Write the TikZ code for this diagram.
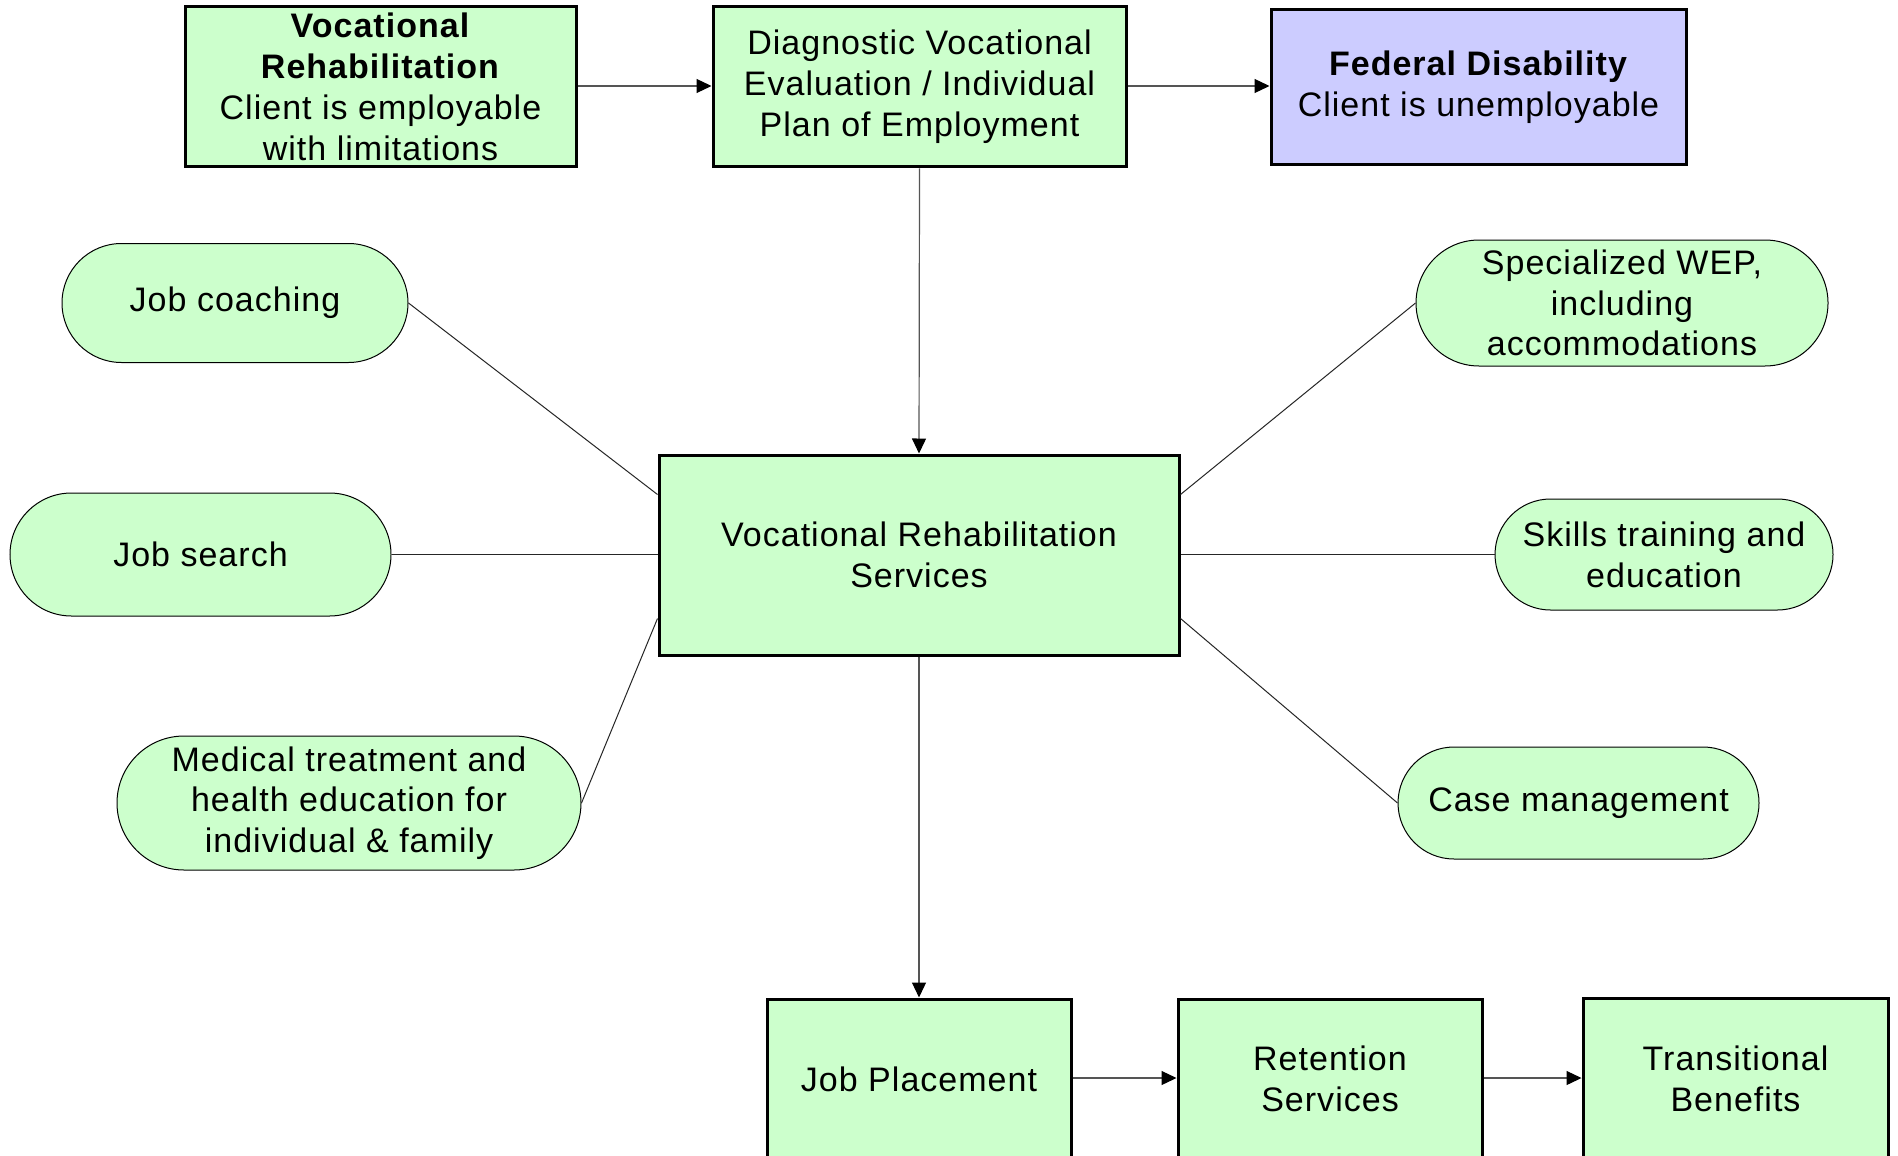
\documentclass[tikz,border=0pt]{standalone}
\usepackage{fontspec}
\setmainfont{Liberation Sans}[LetterSpace=3]
\usetikzlibrary{arrows.meta,calc}
\definecolor{boxgreen}{HTML}{CCFFCC}
\definecolor{boxblue}{HTML}{CCCCFF}
\definecolor{linkgray}{HTML}{555555}
\begin{document}
\begin{tikzpicture}[x=0.5pt,y=-0.5pt,
  every node/.style={align=center,font=\fontsize{17}{20.4}\selectfont,inner sep=0pt},
  stagebox/.style={draw=black,line width=1.5pt,fill=boxgreen},
  bluebox/.style={draw=black,line width=1.5pt,fill=boxblue},
  service/.style={draw=black,line width=0.5pt,fill=boxgreen},
  flow/.style={draw=linkgray,line width=0.6pt,-{Triangle[length=7.5pt,width=7pt,fill=black,color=black]}},
  link/.style={draw=black!85,line width=0.5pt}]
\useasboundingbox (0,0) rectangle (1898,1155);
\clip (0,0) rectangle (1898,1155);
\fill[white] (0,0) rectangle (1898,1155);

% top row
\node[stagebox,minimum width=195.5pt,minimum height=80pt] (vr) at (380.5,87)
  {\textbf{Vocational}\\\textbf{Rehabilitation}\\Client is employable\\with limitations};
\node[stagebox,minimum width=206.5pt,minimum height=80pt] (dv) at (919.5,87)
  {Diagnostic Vocational\\Evaluation / Individual\\Plan of Employment};
\node[bluebox,minimum width=207.5pt,minimum height=77.5pt] (fd) at (1478.5,87.5)
  {\textbf{Federal Disability}\\Client is unemployable};

% central services box
\node[stagebox,minimum width=260pt,minimum height=100pt] (vrs) at (919,555)
  {Vocational Rehabilitation\\Services};

% services on the left
\node[service,minimum width=173pt,minimum height=59.5pt,rounded corners=29.75pt] (jc) at (235,303) {Job coaching};
\node[service,minimum width=190.5pt,minimum height=61.5pt,rounded corners=30.75pt] (js) at (200.5,554.5) {Job search};
\node[service,minimum width=232pt,minimum height=67pt,rounded corners=33.5pt] (mt) at (349,803)
  {Medical treatment and\\health education for\\individual \& family};

% services on the right
\node[service,minimum width=206pt,minimum height=63pt,rounded corners=31.5pt] (wep) at (1622,303)
  {Specialized WEP,\\including\\accommodations};
\node[service,minimum width=169pt,minimum height=55.5pt,rounded corners=27.75pt] (sk) at (1664,554.5)
  {Skills training and\\education};
\node[service,minimum width=180.5pt,minimum height=56pt,rounded corners=28pt] (cm) at (1578.5,803)
  {Case management};

% bottom row
\node[stagebox,minimum width=152pt,minimum height=80pt] (jp) at (919,1079) {Job Placement};
\node[stagebox,minimum width=152pt,minimum height=80pt] (rs) at (1330,1079) {Retention\\Services};
\node[stagebox,minimum width=152.5pt,minimum height=80.5pt] (tb) at (1735.5,1078.5) {Transitional\\Benefits};

% attachment points on the central box
\coordinate (lu) at ($(vrs.north west)+(0,41)$);
\coordinate (ld) at ($(vrs.south west)+(0,-38)$);
\coordinate (ru) at ($(vrs.north east)+(0,41)$);
\coordinate (rd) at ($(vrs.south east)+(0,-38)$);

% flow arrows
\draw[flow] (vr.east |- 0,86) -- (dv.west |- 0,86);
\draw[flow] (dv.east |- 0,86) -- (fd.west |- 0,86);
\draw[flow] (dv.south) -- (vrs.north);
\draw[flow] (vrs.south) -- (jp.north);
\draw[flow] (jp.east |- 0,1078) -- (rs.west |- 0,1078);
\draw[flow] (rs.east |- 0,1078) -- (tb.west |- 0,1078);

% service links
\draw[link] (jc.east) -- (lu);
\draw[link] (js.east) -- (vrs.west |- js.east);
\draw[link] (mt.east) -- (ld);
\draw[link] (wep.west) -- (ru);
\draw[link] (sk.west) -- (vrs.east |- sk.west);
\draw[link] (cm.west) -- (rd);
\end{tikzpicture}
\end{document}
